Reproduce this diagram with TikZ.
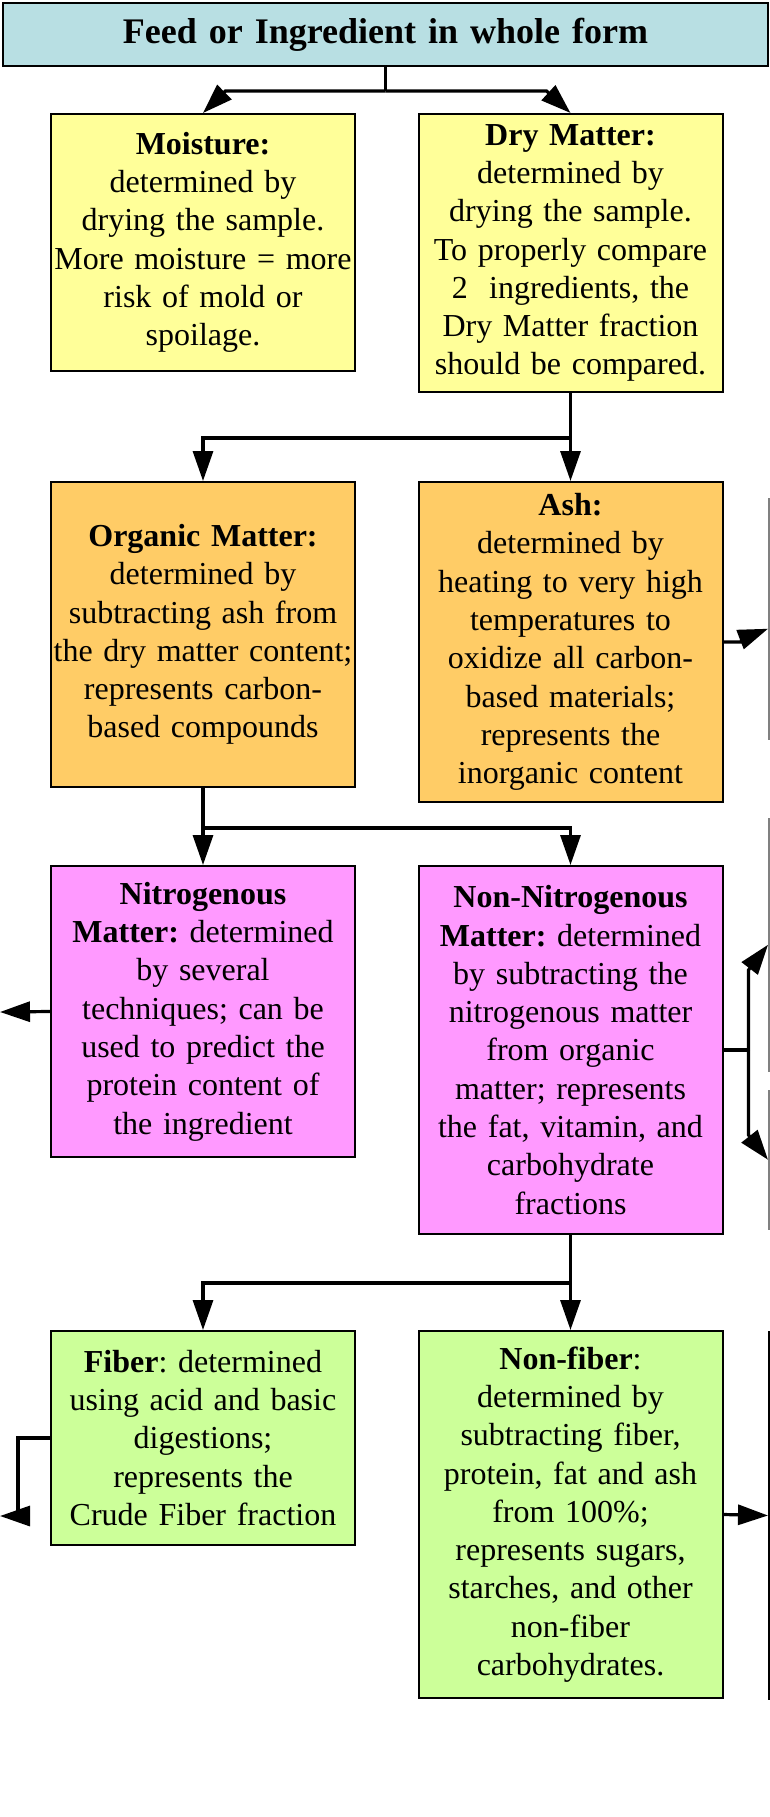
\documentclass[tikz,border=0pt]{standalone}
\usepackage{fontspec}
\setmainfont{Liberation Serif}
\usepackage{xcolor}
\usepackage{tikz}
\usetikzlibrary{arrows.meta}

\definecolor{headblue}{RGB}{184,223,227}
\definecolor{dryyellow}{RGB}{255,255,153}
\definecolor{orgorange}{RGB}{255,204,102}
\definecolor{nitropink}{RGB}{255,153,255}
\definecolor{fibgreen}{RGB}{204,255,153}
\frenchspacing

\begin{document}
\begin{tikzpicture}[x=1pt,y=-1pt,
    part/.style={shape=rectangle, draw, line width=2pt, inner sep=0pt, text width=300pt,
      minimum width=304pt, align=center, font=\fontsize{32}{38.3}\selectfont},
    side/.style={shape=rectangle, draw=gray, line width=1.5pt, minimum width=80pt, anchor=north west},
    link/.style={line width=3.2pt, -{Triangle[length=30pt,width=20pt]}},
    stub/.style={line width=3.2pt}]
    \useasboundingbox (0,0) rectangle (770,1817);
    \clip (0,0) rectangle (770,1817);

    \node[part, fill=headblue, text width=760pt, minimum width=765pt, minimum height=63pt,
      font=\fontsize{36}{44}\selectfont\bfseries] (feed) at (385.5,34.5) {Feed or Ingredient in whole form};

    \node[part, fill=dryyellow, minimum height=257pt] (moist) at (203,242.5)
      {\textbf{Moisture:}\\ determined by\\ drying the sample.\\ More moisture = more\\ risk of mold or\\ spoilage.};
    \node[part, fill=dryyellow, minimum height=278pt] (dry) at (570.5,253)
      {\textbf{Dry Matter:}\\ determined by\\ drying the sample.\\ To properly compare\\ 2~ ingredients, the\\ Dry Matter fraction\\ should be compared.};

    \node[part, fill=orgorange, minimum height=305pt] (org) at (203,634.5)
      {\textbf{Organic Matter:}\\ determined by\\ subtracting ash from\\ the dry matter content;\\ represents carbon-\\ based compounds};
    \node[part, fill=orgorange, minimum height=320pt] (ash) at (570.5,642)
      {\textbf{Ash:}\\ determined by\\ heating to very high\\ temperatures to\\ oxidize all carbon-\\ based materials;\\ represents the\\ inorganic content};

    \node[part, fill=nitropink, minimum height=291pt] (nitro) at (203,1011.5)
      {\textbf{Nitrogenous}\\ \textbf{Matter:} determined\\ by several\\ techniques; can be\\ used to predict the\\ protein content of\\ the ingredient};
    \node[part, fill=nitropink, minimum height=368pt] (nonnitro) at (570.5,1050)
      {\textbf{Non-Nitrogenous}\\ \textbf{Matter:} determined\\ by subtracting the\\ nitrogenous matter\\ from organic\\ matter; represents\\ the fat, vitamin, and\\ carbohydrate\\ fractions};

    \node[part, fill=fibgreen, minimum height=214pt] (fiber) at (203,1438)
      {\textbf{Fiber}: determined\\ using acid and basic\\ digestions;\\ represents the\\ Crude Fiber fraction};
    \node[part, fill=fibgreen, minimum height=367pt] (nonfib) at (570.5,1514.5)
      {\textbf{Non-fiber}:\\ determined by\\ subtracting fiber,\\ protein, fat and ash\\ from 100\%;\\ represents sugars,\\ starches, and other\\ non-fiber\\ carbohydrates.};

    % boxes cut off at the right edge
    \node[side, minimum height=240pt] (ashnext) at (768,498) {};
    \node[side, minimum height=252pt] (nnup) at (768,818) {};
    \node[side, minimum height=138pt] (nndown) at (768,1090) {};
    \node[side, draw=black, line width=2pt, minimum height=367pt] (nfnext) at (768,1331) {};

    \coordinate (nitroout) at (0,1012);
    \coordinate (fiberout) at (0,1516);

    \draw[stub] (feed.south) -- ++(0,24) coordinate (feedsplit);
    \draw[link] (feedsplit) -- ++(-160,0) -- (moist.north);
    \draw[link] (feedsplit) -- ++(161,0) -- (dry.north);

    \draw[stub] (dry.south) -- ++(0,45) coordinate (drysplit);
    \draw[link] (drysplit) -| (org.north);
    \draw[link] (drysplit) -- (ash.north);

    \draw[stub] (org.south) -- ++(0,40) coordinate (orgsplit);
    \draw[link] (orgsplit) -- (nitro.north);
    \draw[link] (orgsplit) -| (nonnitro.north);

    \draw[stub] (nonnitro.south) -- ++(0,48) coordinate (nnsplit);
    \draw[link] (nnsplit) -| (fiber.north);
    \draw[link] (nnsplit) -- (nonfib.north);

    \draw[link] (ash.east) -- ++(18,0) -- ++(0,-3) -- ([yshift=-10pt]ashnext.west);

    \draw[stub] (nonnitro.east) -- ++(25,0) coordinate (nnside);
    \draw[link] (nnside) -- ++(0,-80) -- (nnup.west);
    \draw[link] (nnside) -- ++(0,85) -- (nndown.west);

    \draw[link] (nitro.west) -- (nitroout);
    \draw[link] (fiber.west) -- ++(-32,0) |- (fiberout);
    \draw[link] (nonfib.east) -- (nfnext.west);
  \end{tikzpicture}
\end{document}
